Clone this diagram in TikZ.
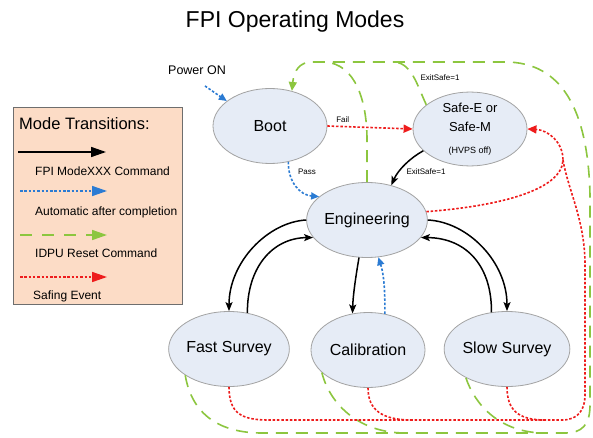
\documentclass[tikz,border=0pt]{standalone}
\usepackage{fontspec}
\setmainfont{Liberation Sans}
\usetikzlibrary{shapes.geometric,arrows.meta}
\definecolor{nodefill}{HTML}{E6ECF6}
\definecolor{nodeborder}{HTML}{A3A3A3}
\definecolor{legfill}{HTML}{FCDCC6}
\definecolor{legborder}{HTML}{6E6E6E}
\definecolor{autoblue}{HTML}{2B7BD3}
\definecolor{resetgreen}{HTML}{8CC63F}
\definecolor{safered}{HTML}{EE1C1C}
\tikzset{
 mode/.style={ellipse, draw=nodeborder, fill=nodefill, line width=0.8pt, minimum width=114pt, minimum height=75pt, inner sep=0pt, align=center, font=\fontsize{16}{19}\selectfont},
 cmd/.style={draw=black, line width=1.5pt, -{Stealth[length=9pt,width=7pt,inset=2pt]}},
 autotr/.style={draw=autoblue, line width=1.6pt, dash pattern=on 2.5pt off 1.8pt, -{Triangle[length=8pt,width=7pt]}},
 reset/.style={draw=resetgreen, line width=1.6pt, dash pattern=on 12pt off 8pt},
 safing/.style={draw=safered, line width=1.6pt, dash pattern=on 2.5pt off 1.8pt},
 colortip/.style={-{Triangle[length=9pt,width=8pt]}},
 legtip/.style={-{Triangle[length=15pt,width=10pt]}},
 small/.style={font=\fontsize{8}{10}\selectfont, inner sep=1pt},
 legtext/.style={anchor=west, font=\fontsize{12}{14}\selectfont, inner sep=0pt},
}
\begin{document}
\begin{tikzpicture}[x=1pt,y=-1pt]
\useasboundingbox (0,0) rectangle (593,438);
\fill[white] (0,0) rectangle (593,438);

% title
\node[font=\fontsize{23}{27}\selectfont] (title) at (295,22) {FPI Operating Modes};

% legend
\node[draw=legborder, fill=legfill, line width=0.8pt, minimum width=169pt, minimum height=197pt, anchor=north west, inner sep=0pt] (legend) at (13,107) {};
\node[anchor=west, font=\fontsize{16.5}{19}\selectfont, inner sep=0pt] (legtitle) at (19,124) {Mode Transitions:};
\coordinate (l1a) at (18,152); \coordinate (l1b) at (106,152);
\coordinate (l2a) at (20,191); \coordinate (l2b) at (107,191);
\coordinate (l3a) at (20,235); \coordinate (l3b) at (107,235);
\coordinate (l4a) at (20,277); \coordinate (l4b) at (107,277);
\draw[cmd, legtip] (l1a) -- (l1b);
\draw[autotr, legtip] (l2a) -- (l2b);
\draw[reset, dash pattern=on 12pt off 10pt, legtip] (l3a) -- (l3b);
\draw[safing, legtip] (l4a) -- (l4b);
\node[legtext] (lt1) at (35,171) {FPI ModeXXX Command};
\node[legtext] (lt2) at (35,212) {Automatic after completion};
\node[legtext] (lt3) at (35,253) {IDPU Reset Command};
\node[legtext] (lt4) at (33,296) {Safing Event};

% modes
\node[mode] (boot) at (270,126) {Boot};
\node[mode, minimum height=73pt] (safe) at (470,129) {\fontsize{13}{16}\selectfont Safe-E or\\\fontsize{13}{16}\selectfont Safe-M\\[3pt]\fontsize{9}{11}\selectfont (HVPS off)};
\node[mode] (eng) at (367,220) {Engineering};
\node[mode] (fs) at (229,349) {Fast Survey};
\node[mode] (cal) at (368,350) {Calibration};
\node[mode] (ss) at (507,349) {Slow Survey};
\node[font=\fontsize{12.5}{15}\selectfont] (pon) at (197,70) {Power ON};

% green reset network
\draw[reset, colortip] (fs.211) .. controls (192,415) and (220,433) .. (262,433) -- (565,433) .. controls (582,433) and (590,425) .. (590,405) -- (590,195) .. controls (588,110) and (562,62) .. (505,62) -- (312,62) .. controls (300,62) and (294,70) .. (boot.58);
\draw[reset] (cal.206) .. controls (330,405) and (360,433) .. (405,433);
\draw[reset] (ss.215) .. controls (475,405) and (500,433) .. (545,433);
\draw[reset] (eng.north) -- (367,140) .. controls (367,100) and (355,64) .. (325,62);
\draw[reset] (safe.151) .. controls (417,85) and (412,64) .. (395,62);
\node[small] (exit1) at (440,78) {ExitSafe=1};

% red safing
\draw[safing, colortip] (boot.east) -- node[small, pos=0.18, above=2pt] (faillbl) {Fail} (safe.west);
\draw[safing, colortip] (eng.8) .. controls (500,206) and (562,190) .. (563,160) .. controls (563,142) and (548,130) .. (safe.east);
\draw[safing] (fs.south) .. controls (229,412) and (240,420) .. (268,420) -- (562,420) .. controls (578,420) and (585,410) .. (585,395) -- (585,265) .. controls (585,220) and (568,190) .. (563,160);
\draw[safing] (cal.south) .. controls (368,410) and (382,420) .. (412,420);
\draw[safing] (ss.south) .. controls (507,410) and (518,420) .. (545,420);

% blue automatic
\draw[autotr] ([shift={(8,8)}]pon.south) -- (boot.150);
\draw[autotr] (boot.-63) .. controls (288,182) and (300,195) .. (eng.154);
\node[small] (passlbl) at (307,172) {Pass};
\draw[autotr] (cal.65) .. controls (385,290) and (384,275) .. (eng.-73);

% black commands
\draw[cmd] (safe.205) .. controls (410,158) and (398,170) .. (eng.55);
\node[small] (exit2) at (426,172) {ExitSafe=1};
\draw[cmd] (eng.west) .. controls (268,222) and (229,262) .. (fs.north);
\draw[cmd] (fs.63) .. controls (247,268) and (272,238) .. (eng.198);
\draw[cmd] (eng.-102) .. controls (356,275) and (353,295) .. (cal.113);
\draw[cmd] (eng.east) .. controls (468,222) and (507,262) .. (ss.north);
\draw[cmd] (ss.113) .. controls (492,268) and (468,238) .. (eng.-18);
\end{tikzpicture}
\end{document}
